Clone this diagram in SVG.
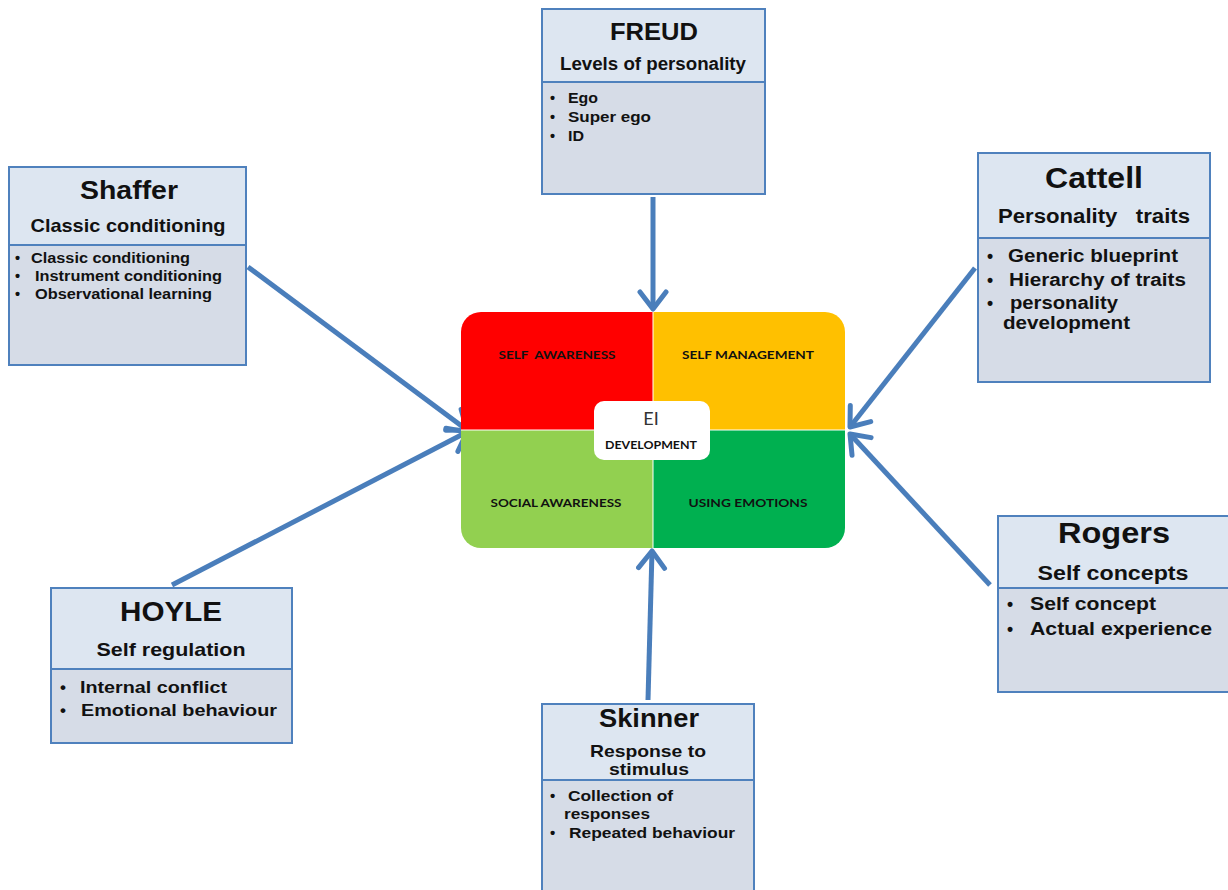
<svg xmlns="http://www.w3.org/2000/svg" width="1228" height="890" viewBox="0 0 1228 890">
  <defs>
    <marker id="chev" viewBox="-22 -16 26 32" markerWidth="26" markerHeight="32" markerUnits="userSpaceOnUse" refX="0" refY="0" orient="auto">
      <path d="M-17,-13 L0,0 L-17,13" fill="none" stroke="#4a7ebb" stroke-width="5" stroke-linecap="round" stroke-linejoin="round"/>
    </marker>
    <clipPath id="coreClip"><rect x="461" y="312" width="384" height="236" rx="20"/></clipPath>
  </defs>
  <style>
    .hdr { fill: #dde6f1; stroke: #4f81bd; stroke-width: 2; }
    .body { fill: #d6dce7; stroke: #4f81bd; stroke-width: 2; }
    text { font-family: "Liberation Sans", Arial, sans-serif; font-weight: bold; fill: #111; }
    .t { text-anchor: middle; }
    .q { font-family: Lato, "Open Sans", sans-serif; font-size: 12px; text-anchor: middle; }
    .ei { font-family: Lato, "Open Sans", sans-serif; font-weight: normal; font-size: 18px; fill: #333; text-anchor: middle; }
    .conn { stroke: #4a7ebb; stroke-width: 5; fill: none; marker-end: url(#chev); }
  </style>
  <rect width="1228" height="890" fill="#ffffff"/>

  <!-- connectors -->
  <g id="connectors">
    <line class="conn" x1="653" y1="197" x2="653" y2="309"/>
    <line class="conn" x1="648" y1="700" x2="652" y2="551"/>
    <line class="conn" x1="248" y1="267" x2="467" y2="430"/>
    <line class="conn" x1="172" y1="585" x2="467" y2="432"/>
    <line class="conn" x1="975" y1="268" x2="850" y2="427"/>
    <line class="conn" x1="990" y1="585" x2="850" y2="434"/>
  </g>

  <!-- central EI quadrant -->
  <g id="ei-core">
    <g clip-path="url(#coreClip)">
      <rect x="461" y="312" width="192" height="118" fill="#ff0000"/>
      <rect x="653" y="312" width="192" height="118" fill="#ffc000"/>
      <rect x="461" y="430" width="192" height="118" fill="#92d050"/>
      <rect x="653" y="430" width="192" height="118" fill="#00b050"/>
    </g>
    <line x1="653" y1="312" x2="653" y2="548" stroke="#ffffff" stroke-width="1"/>
    <line x1="461" y1="430" x2="845" y2="430" stroke="#ffffff" stroke-width="1"/>
    <text class="q" x="557" y="359" fill="#5a1010" xml:space="preserve" textLength="117" lengthAdjust="spacingAndGlyphs">SELF  AWARENESS</text>
    <text class="q" x="748" y="359" fill="#3a2a10" textLength="132" lengthAdjust="spacingAndGlyphs">SELF MANAGEMENT</text>
    <text class="q" x="556" y="507" fill="#1c2a10" textLength="131" lengthAdjust="spacingAndGlyphs">SOCIAL AWARENESS</text>
    <text class="q" x="748" y="507" fill="#0d2a15" textLength="119" lengthAdjust="spacingAndGlyphs">USING EMOTIONS</text>
    <rect x="594" y="401" width="116" height="59" rx="10" fill="#ffffff"/>
    <text class="ei" x="651" y="425">EI</text>
    <text class="q" x="651" y="449" fill="#333" textLength="92" lengthAdjust="spacingAndGlyphs">DEVELOPMENT</text>
  </g>

  <!-- Freud -->
  <g id="freud">
    <rect class="body" x="542" y="82" width="223" height="112"/>
    <rect class="hdr" x="542" y="9" width="223" height="73"/>
    <text class="t" x="654" y="40" font-size="23" textLength="88" lengthAdjust="spacingAndGlyphs">FREUD</text>
    <text class="t" x="653" y="70" font-size="17.5" textLength="186" lengthAdjust="spacingAndGlyphs">Levels of personality</text>
    <g font-size="14.5">
      <text x="550" y="103">•</text><text x="568" y="103" textLength="30" lengthAdjust="spacingAndGlyphs">Ego</text>
      <text x="550" y="122">•</text><text x="568" y="122" textLength="83" lengthAdjust="spacingAndGlyphs">Super ego</text>
      <text x="550" y="141">•</text><text x="568" y="141" textLength="16" lengthAdjust="spacingAndGlyphs">ID</text>
    </g>
  </g>

  <!-- Shaffer -->
  <g id="shaffer">
    <rect class="body" x="9" y="245" width="237" height="120"/>
    <rect class="hdr" x="9" y="167" width="237" height="78"/>
    <text class="t" x="129" y="199" font-size="25" textLength="98" lengthAdjust="spacingAndGlyphs">Shaffer</text>
    <text class="t" x="128" y="232" font-size="18.5" textLength="195" lengthAdjust="spacingAndGlyphs">Classic conditioning</text>
    <g font-size="14.5">
      <text x="15" y="263">•</text><text x="31" y="263" textLength="159" lengthAdjust="spacingAndGlyphs">Classic conditioning</text>
      <text x="15" y="281">•</text><text x="35" y="281" textLength="187" lengthAdjust="spacingAndGlyphs">Instrument conditioning</text>
      <text x="15" y="299">•</text><text x="35" y="299" textLength="177" lengthAdjust="spacingAndGlyphs">Observational learning</text>
    </g>
  </g>

  <!-- Cattell -->
  <g id="cattell">
    <rect class="body" x="978" y="238" width="232" height="144"/>
    <rect class="hdr" x="978" y="153" width="232" height="85"/>
    <text class="t" x="1094" y="188" font-size="29" textLength="98" lengthAdjust="spacingAndGlyphs">Cattell</text>
    <text class="t" x="1094" y="223" font-size="19.5" xml:space="preserve" textLength="192" lengthAdjust="spacingAndGlyphs">Personality   traits</text>
    <g font-size="17.5">
      <text x="987" y="262">•</text><text x="1008" y="262" textLength="170" lengthAdjust="spacingAndGlyphs">Generic blueprint</text>
      <text x="987" y="286">•</text><text x="1009" y="286" textLength="177" lengthAdjust="spacingAndGlyphs">Hierarchy of traits</text>
      <text x="987" y="309">•</text><text x="1010" y="309" textLength="108" lengthAdjust="spacingAndGlyphs">personality</text>
      <text x="1003" y="329" textLength="127" lengthAdjust="spacingAndGlyphs">development</text>
    </g>
  </g>

  <!-- HOYLE -->
  <g id="hoyle">
    <rect class="body" x="51" y="669" width="241" height="74"/>
    <rect class="hdr" x="51" y="588" width="241" height="81"/>
    <text class="t" x="171" y="621" font-size="27" textLength="102" lengthAdjust="spacingAndGlyphs">HOYLE</text>
    <text class="t" x="171" y="656" font-size="19" textLength="149" lengthAdjust="spacingAndGlyphs">Self regulation</text>
    <g font-size="17">
      <text x="60" y="693">•</text><text x="80" y="693" textLength="147" lengthAdjust="spacingAndGlyphs">Internal conflict</text>
      <text x="60" y="716">•</text><text x="81" y="716" textLength="196" lengthAdjust="spacingAndGlyphs">Emotional behaviour</text>
    </g>
  </g>

  <!-- Rogers -->
  <g id="rogers">
    <rect class="body" x="998" y="588" width="232" height="104"/>
    <rect class="hdr" x="998" y="516" width="232" height="72"/>
    <text class="t" x="1114" y="543" font-size="29" textLength="112" lengthAdjust="spacingAndGlyphs">Rogers</text>
    <text class="t" x="1113" y="580" font-size="19.5" textLength="151" lengthAdjust="spacingAndGlyphs">Self concepts</text>
    <g font-size="17.5">
      <text x="1007" y="610">•</text><text x="1030" y="610" textLength="126" lengthAdjust="spacingAndGlyphs">Self concept</text>
      <text x="1007" y="635">•</text><text x="1030" y="635" textLength="182" lengthAdjust="spacingAndGlyphs">Actual experience</text>
    </g>
  </g>

  <!-- Skinner -->
  <g id="skinner">
    <rect class="body" x="542" y="780" width="212" height="112"/>
    <rect class="hdr" x="542" y="704" width="212" height="76"/>
    <text class="t" x="649" y="727" font-size="25" textLength="100" lengthAdjust="spacingAndGlyphs">Skinner</text>
    <text class="t" x="648" y="757" font-size="17" textLength="116" lengthAdjust="spacingAndGlyphs">Response to</text>
    <text class="t" x="649" y="775" font-size="17" textLength="80" lengthAdjust="spacingAndGlyphs">stimulus</text>
    <g font-size="15">
      <text x="550" y="801">•</text><text x="568" y="801" textLength="105" lengthAdjust="spacingAndGlyphs">Collection of</text>
      <text x="564" y="819" textLength="86" lengthAdjust="spacingAndGlyphs">responses</text>
      <text x="550" y="838">•</text><text x="569" y="838" textLength="166" lengthAdjust="spacingAndGlyphs">Repeated behaviour</text>
    </g>
  </g>
</svg>
